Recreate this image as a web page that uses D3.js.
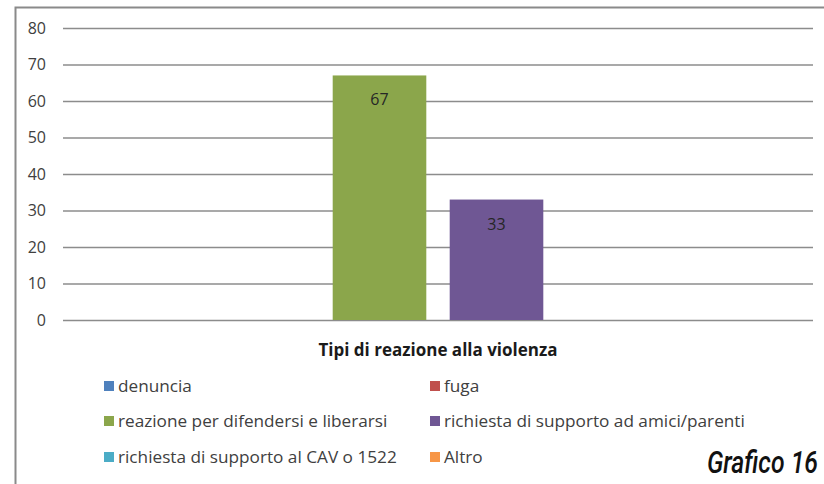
<!DOCTYPE html>
<html>
<head>
<meta charset="utf-8">
<script src="https://cdn.jsdelivr.net/npm/d3@7"></script>
<style>
  body { margin: 0; background: #fff; }
  svg { display: block; }
</style>
</head>
<body>
<div id="chart"></div>
<script>
// Data
var category = "Tipi di reazione alla violenza";
var series = ["denuncia", "fuga", "reazione per difendersi e liberarsi",
              "richiesta di supporto ad amici/parenti", "richiesta di supporto al CAV o 1522", "Altro"];
var values = [0, 0, 67, 33, 0, 0];
var colors = ["#4f81bd", "#c0504d", "#8ba64b", "#6f5794", "#4bacc6", "#f79646"];
var yTicks = [0, 10, 20, 30, 40, 50, 60, 70, 80];

var width = 824;
var height = 484;
var plot = { left: 63, right: 813, top: 28, bottom: 320 };

var svg = d3.select("#chart")
            .append("svg")
            .attr("width", width)
            .attr("height", height);

// Frame (left and top border only)
svg.append("path")
   .attr("d", "M15.5,484V7.5H824")
   .attr("fill", "none")
   .attr("stroke", "#8a8a8a")
   .attr("stroke-width", 2);

// Scales
var x = d3.scaleBand()
          .domain(series)
          .range([plot.left, plot.right])
          .paddingInner(0.2)
          .paddingOuter(0.305);

var y = d3.scaleLinear()
          .domain([0, 80])
          .range([plot.bottom, plot.top]);

// Gridlines + tick labels
var yAxis = d3.axisLeft(y)
              .tickValues(yTicks)
              .tickSize(-(plot.right - plot.left))
              .tickPadding(17);

var gy = svg.append("g")
            .attr("transform", "translate(" + plot.left + ",0)")
            .call(yAxis);
gy.select(".domain").remove();
gy.selectAll(".tick line")
  .attr("stroke", "#8c8c8c")
  .attr("stroke-width", 1.6);
gy.selectAll(".tick text")
  .attr("fill", "#404040")
  .style("font-family", "'Open Sans', sans-serif")
  .style("font-size", "16px");

// Bars
svg.selectAll("rect.bar")
   .data(values)
   .enter()
   .append("rect")
   .attr("class", "bar")
   .attr("x", (d, i) => x(series[i]))
   .attr("y", d => y(d))
   .attr("width", x.bandwidth())
   .attr("height", d => y(0) - y(d))
   .attr("fill", (d, i) => colors[i]);

// Value labels
svg.selectAll("text.val")
   .data(values.filter(v => v > 0).map(v => ({ v: v, s: series[values.indexOf(v)] })))
   .enter()
   .append("text")
   .attr("class", "val")
   .attr("x", d => x(d.s) + x.bandwidth() / 2)
   .attr("y", d => y(d.v) + 30)
   .attr("text-anchor", "middle")
   .attr("fill", "#262626")
   .style("font-family", "'Open Sans', sans-serif")
   .style("font-size", "16px")
   .text(d => d.v);

// Category label
svg.append("text")
   .attr("x", (plot.left + plot.right) / 2)
   .attr("y", 356)
   .attr("text-anchor", "middle")
   .attr("fill", "#1a1a1a")
   .style("font-family", "'Open Sans', sans-serif")
   .style("font-weight", "bold")
   .style("font-size", "17px")
   .text(category);

// Legend
var legendX = [104, 430];
var legendY = [386, 421, 457];

var legend = svg.selectAll("g.legend")
                .data(series)
                .enter()
                .append("g")
                .attr("class", "legend")
                .attr("transform", (d, i) => "translate(" + legendX[i % 2] + "," + legendY[Math.floor(i / 2)] + ")");

legend.append("rect")
      .attr("x", 0)
      .attr("y", -5)
      .attr("width", 10)
      .attr("height", 10)
      .attr("fill", (d, i) => colors[i]);

legend.append("text")
      .attr("x", 14)
      .attr("y", 6)
      .attr("fill", "#404040")
      .style("font-family", "'Open Sans', sans-serif")
      .style("font-size", "17.2px")
      .text(d => d);

// Caption (condensed italic)
svg.append("text")
   .attr("transform", "translate(818,473) scale(0.8,1)")
   .attr("text-anchor", "end")
   .attr("fill", "#111")
   .style("font-family", "'Roboto', sans-serif")
   .style("font-style", "italic")
   .style("font-weight", "500")
   .style("font-size", "31px")
   .text("Grafico 16");
</script>
</body>
</html>
